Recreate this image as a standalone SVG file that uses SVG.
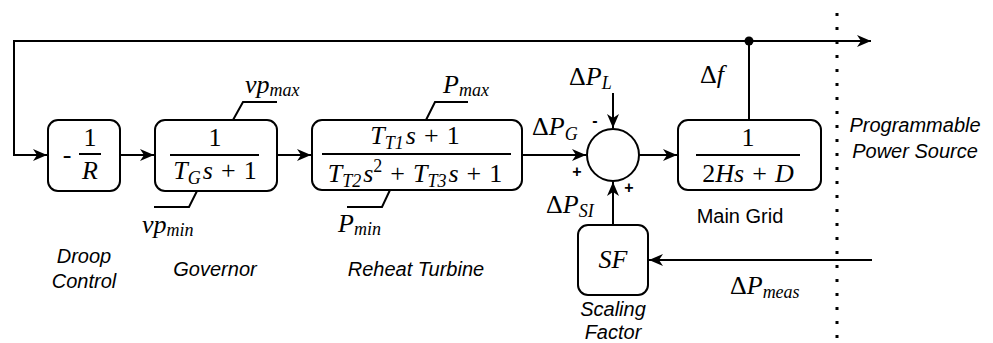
<svg xmlns="http://www.w3.org/2000/svg" width="993" height="343" viewBox="0 0 993 343">
<style>
.box{fill:#fff;stroke:#000;stroke-width:2}
.ln{fill:none;stroke:#000;stroke-width:2}
.m{font-family:"Liberation Serif","Times New Roman",serif;font-size:26px;fill:#000}
.i{font-style:italic}
.s{font-size:18px}
.lbl{font-family:"Liberation Sans",Arial,sans-serif;font-size:20px;font-style:italic;fill:#000;text-anchor:middle}
.sg{font-family:"Liberation Sans",Arial,sans-serif;font-size:16px;font-weight:bold;fill:#000;text-anchor:middle}
</style>
<defs>
<marker id="ah" markerUnits="userSpaceOnUse" markerWidth="16" markerHeight="14" refX="14" refY="6" orient="auto">
<path d="M0,0 L14,6 L0,12 L4,6 z" fill="#000"/>
</marker>
</defs>
<rect width="993" height="343" fill="#fff"/>
<g id="connectors">
<path class="ln" d="M749,41 L14,41 L14,155 L47,155" marker-end="url(#ah)"/>
<path class="ln" d="M749,120 L749,41 L871,41" marker-end="url(#ah)"/>
<circle cx="749" cy="41" r="4.5" fill="#000"/>
<path class="ln" d="M120,155 L154,155" marker-end="url(#ah)"/>
<path class="ln" d="M277,155 L311,155" marker-end="url(#ah)"/>
<path class="ln" d="M522,155 L586,155" marker-end="url(#ah)"/>
<path class="ln" d="M639,155 L677,155" marker-end="url(#ah)"/>
<path class="ln" d="M613,93 L613,128" marker-end="url(#ah)"/>
<path class="ln" d="M613,225 L613,182" marker-end="url(#ah)"/>
<path class="ln" d="M872,260 L649,260" marker-end="url(#ah)"/>
<path class="ln" d="M233,120 L243,102 L277,102"/>
<path class="ln" d="M197,191 L189,207 L154,207"/>
<path class="ln" d="M426,120 L435,102 L468,102"/>
<path class="ln" d="M390,190 L382,207 L347,207"/>
</g>
<g id="boundary">
<line x1="837" y1="13" x2="837" y2="343" stroke="#000" stroke-width="3" stroke-dasharray="3 11"/>
<text class="lbl" x="915" y="132">Programmable</text>
<text class="lbl" x="915" y="158">Power Source</text>
</g>
<g id="droop">
<rect class="box" x="48" y="120" width="72" height="71" rx="10"/>
<line class="ln" x1="79" y1="154" x2="101" y2="154"/>
<text class="m" x="67" y="163" text-anchor="middle">-</text>
<text class="m" x="90" y="146" text-anchor="middle">1</text>
<text class="m i" x="90" y="179" text-anchor="middle">R</text>
<text class="lbl" x="84" y="263">Droop</text>
<text class="lbl" x="84" y="288">Control</text>
</g>
<g id="governor">
<rect class="box" x="155" y="120" width="122" height="71" rx="10"/>
<line class="ln" x1="170" y1="155" x2="259" y2="155"/>
<text class="m" x="215" y="146" text-anchor="middle">1</text>
<text class="m" x="215" y="179" text-anchor="middle"><tspan class="i">T</tspan><tspan class="i s" dy="5">G</tspan><tspan class="i" dy="-5" dx="2">s</tspan><tspan dx="8">+</tspan><tspan dx="8">1</tspan></text>
<text class="m" x="245" y="93"><tspan class="i">vp</tspan><tspan class="i s" dy="3">max</tspan></text>
<text class="m" x="142" y="233"><tspan class="i">vp</tspan><tspan class="i s" dy="3">min</tspan></text>
<text class="lbl" x="215" y="276">Governor</text>
</g>
<g id="turbine">
<rect class="box" x="312" y="120" width="210" height="70" rx="10"/>
<line class="ln" x1="322" y1="154" x2="511" y2="154"/>
<text class="m" x="415" y="144" text-anchor="middle"><tspan class="i">T</tspan><tspan class="i s" dy="5">T1</tspan><tspan class="i" dy="-5" dx="2">s</tspan><tspan dx="8">+</tspan><tspan dx="8">1</tspan></text>
<text class="m" x="415" y="182" text-anchor="middle"><tspan class="i">T</tspan><tspan class="i s" dy="5">T2</tspan><tspan class="i" dy="-5" dx="2">s</tspan><tspan class="s" dy="-10">2</tspan><tspan dy="10" dx="8">+</tspan><tspan class="i" dx="8">T</tspan><tspan class="i s" dy="5">T3</tspan><tspan class="i" dy="-5" dx="2">s</tspan><tspan dx="8">+</tspan><tspan dx="8">1</tspan></text>
<text class="m" x="443" y="93"><tspan class="i">P</tspan><tspan class="i s" dy="3">max</tspan></text>
<text class="m" x="338" y="232"><tspan class="i">P</tspan><tspan class="i s" dy="3">min</tspan></text>
<text class="lbl" x="416" y="276">Reheat Turbine</text>
</g>
<g id="sum">
<circle class="box" cx="613" cy="155" r="26"/>
<text class="m" x="569" y="85">Δ<tspan class="i">P</tspan><tspan class="i s" dy="4">L</tspan></text>
<text class="m" x="532" y="135">Δ<tspan class="i">P</tspan><tspan class="i s" dy="5">G</tspan></text>
<text class="m" x="546" y="213">Δ<tspan class="i">P</tspan><tspan class="i s" dy="4">SI</tspan></text>
<text class="sg" x="595" y="126">-</text>
<text class="sg" x="577" y="177">+</text>
<text class="sg" x="629" y="193">+</text>
</g>
<g id="maingrid">
<rect class="box" x="678" y="120" width="143" height="70" rx="10"/>
<line class="ln" x1="696" y1="155" x2="800" y2="155"/>
<text class="m" x="748" y="146" text-anchor="middle">1</text>
<text class="m" x="748" y="182" text-anchor="middle">2<tspan class="i">Hs</tspan><tspan dx="8">+</tspan><tspan class="i" dx="8">D</tspan></text>
<text class="m" x="700" y="83">Δ<tspan class="i">f</tspan></text>
<text class="lbl" x="740" y="223" style="font-style:normal">Main Grid</text>
</g>
<g id="scaling">
<rect class="box" x="578" y="225" width="70" height="70" rx="10"/>
<text class="m i" x="613" y="268" text-anchor="middle">SF</text>
<text class="lbl" x="613" y="316">Scaling</text>
<text class="lbl" x="613" y="339">Factor</text>
<text class="m" x="730" y="294">Δ<tspan class="i">P</tspan><tspan class="i s" dy="4">meas</tspan></text>
</g>
</svg>
